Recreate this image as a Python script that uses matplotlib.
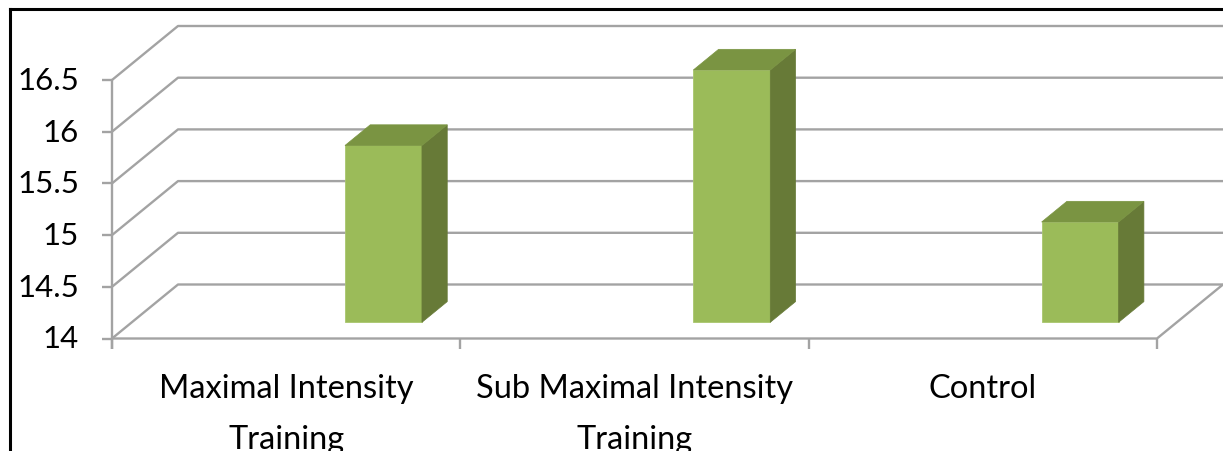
import matplotlib
matplotlib.use("Agg")
import matplotlib.pyplot as plt
from matplotlib.patches import Polygon
from matplotlib.lines import Line2D

# ---- data ----
categories = ["Maximal Intensity\nTraining", "Sub Maximal Intensity\nTraining", "Control"]
values = [15.71, 16.44, 14.97]
y_ticks = [14, 14.5, 15, 15.5, 16, 16.5]
y_tick_labels = ["14", "14.5", "15", "15.5", "16", "16.5"]

# ---- style / geometry ----
W, H = 1223, 452
DPI = 100
FRONT = "#9BBB59"
SIDE = "#677A37"
TOP = "#7A9442"
GRID = "#A3A3A3"
FONT = "Lato"

fig = plt.figure(figsize=(W / DPI, H / DPI), dpi=DPI)
ax = fig.add_axes([0, 0, 1, 1])
ax.axis("off")

# pixel <-> data mapping
px_per_x = 348.33
px_per_y = 103.4
x_front_left_px = 112
y_base_px = 339.5
ymin_val = y_ticks[0]
x_left = -0.5 - x_front_left_px / px_per_x
x_right = -0.5 + (W - x_front_left_px) / px_per_x
y_bot = ymin_val - (H - y_base_px) / px_per_y
y_top = ymin_val + y_base_px / px_per_y
ax.set_xlim(x_left, x_right)
ax.set_ylim(y_bot, y_top)

n = len(categories)
x0, x1 = -0.5, n - 0.5
DX = 66 / px_per_x      # depth offset of back wall (x)
DY = 54 / px_per_y      # depth offset of back wall (y)
x_back_end = x_right + 0.01

gkw = dict(color=GRID, lw=1.7, solid_capstyle="butt", zorder=1, clip_on=False)

# back wall gridlines and left wall diagonals
for v in y_ticks:
    ax.plot([x0, x0 + DX, x_back_end], [v, v + DY, v + DY], **gkw)
# front vertical axis line
ax.plot([x0, x0], [y_ticks[-1], ymin_val - 10 / px_per_y], **gkw)
# y tick marks
for v in y_ticks:
    ax.plot([x0 - 10 / px_per_x, x0], [v, v], **gkw)
# floor front edge + right diagonal
ax.plot([x0, x1, x1 + DX], [ymin_val, ymin_val, ymin_val + DY], **gkw)
# category tick marks
for k in range(n + 1):
    xt = x0 + k
    ax.plot([xt, xt], [ymin_val, ymin_val - 10 / px_per_y], **gkw)

# ---- bars (oblique 3D) ----
f0, f1 = 0.30, 0.683     # depth fractions of bar front / back
bar_off, bar_w = 0.112, 0.221
for i, v in enumerate(values):
    xl = i + bar_off
    xr = xl + bar_w
    h = v - ymin_val
    # front face
    ax.bar(xl + f0 * DX, h, width=bar_w, bottom=ymin_val + f0 * DY, align="edge",
           color=FRONT, edgecolor="#A9C66E", linewidth=0.6, zorder=3)
    # side face
    side = [(xr + f0 * DX, ymin_val + f0 * DY), (xr + f1 * DX, ymin_val + f1 * DY),
            (xr + f1 * DX, v + f1 * DY), (xr + f0 * DX, v + f0 * DY)]
    ax.add_patch(Polygon(side, closed=True, facecolor=SIDE, edgecolor=SIDE, lw=0.5, zorder=3))
    # top face
    top = [(xl + f0 * DX, v + f0 * DY), (xr + f0 * DX, v + f0 * DY),
           (xr + f1 * DX, v + f1 * DY), (xl + f1 * DX, v + f1 * DY)]
    ax.add_patch(Polygon(top, closed=True, facecolor=TOP, edgecolor=TOP, lw=0.5, zorder=3))

# ---- labels ----
for v, lab in zip(y_ticks, y_tick_labels):
    ax.text(x0 - 33 / px_per_x, v, lab, ha="right", va="center",
            fontsize=22.5, family=FONT, color="#000000")
for i, lab in enumerate(categories):
    ax.text(i, ymin_val - 35 / px_per_y, lab, ha="center", va="top",
            fontsize=23.5, family=FONT, color="#000000", linespacing=1.85)

# outer frame (top and left edges visible)
fig.add_artist(Line2D([10 / W, 10 / W], [0, 1 - 10 / H], transform=fig.transFigure,
                      color="black", lw=2.2))
fig.add_artist(Line2D([10 / W, 1], [1 - 10 / H, 1 - 10 / H], transform=fig.transFigure,
                      color="black", lw=2.2))

fig.savefig("out.png", dpi=DPI, facecolor="white")
